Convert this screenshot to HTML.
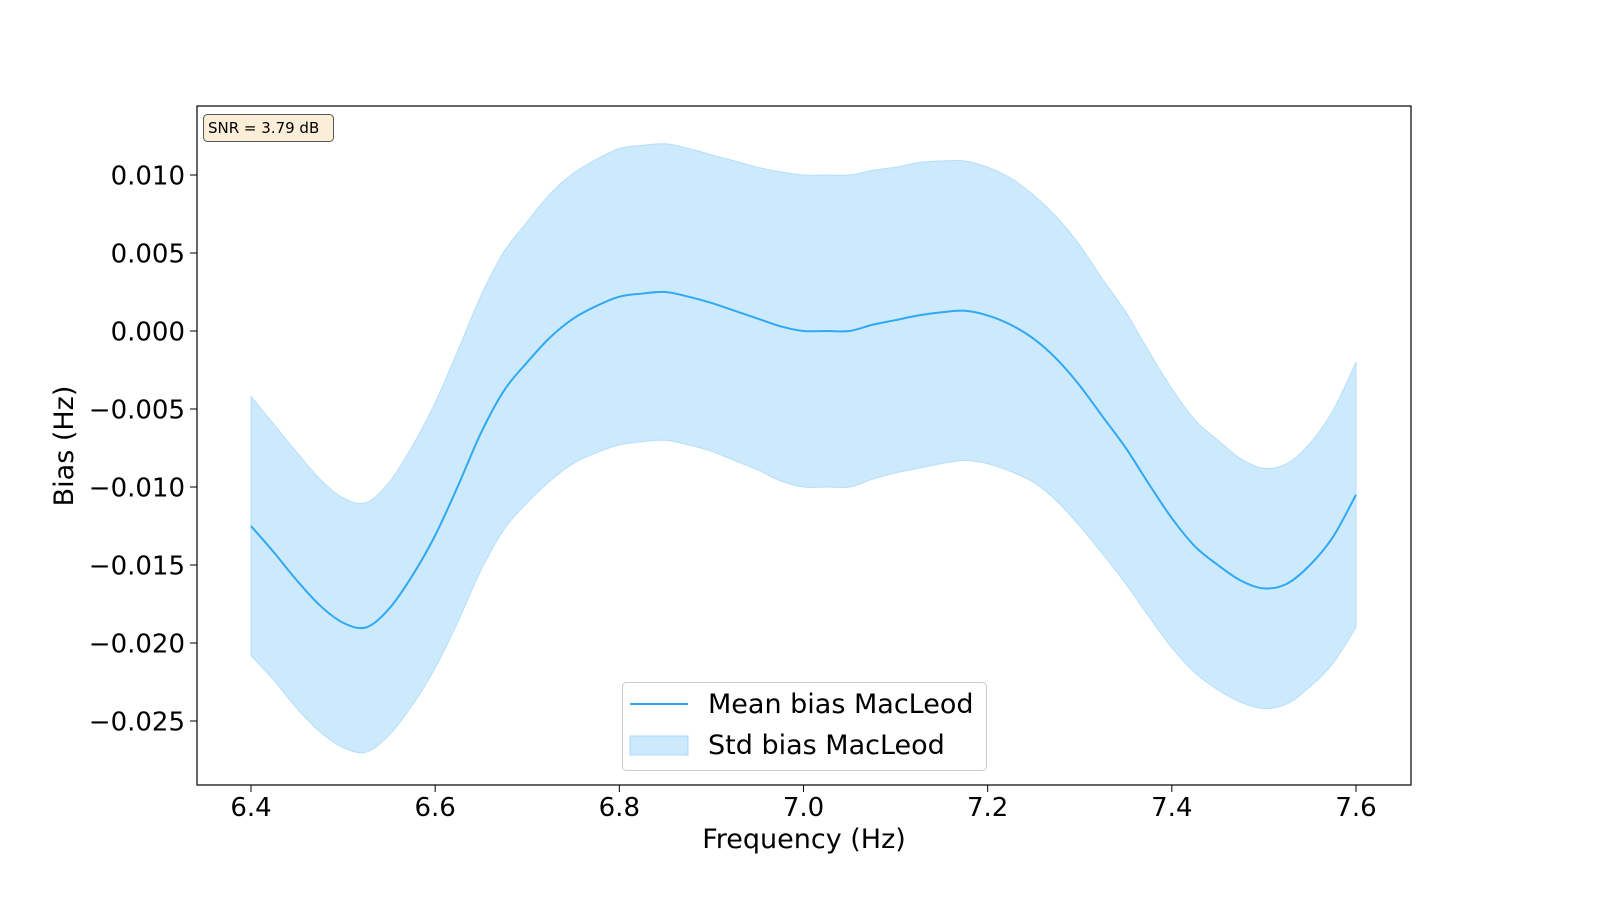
<!DOCTYPE html>
<html><head><meta charset="utf-8"><style>
body{margin:0;background:#fff;}
svg{display:block;font-family:"DejaVu Sans","Liberation Sans",sans-serif;}
</style></head><body>
<svg id="chart" width="1600" height="900">
<g id="plot"></g>
<rect x="197" y="106" width="1214" height="679" fill="none" stroke="#000" stroke-width="1.2"/>
<g id="xt"></g>
<g id="yt"></g>
<text x="804" y="848" font-size="27" text-anchor="middle">Frequency (Hz)</text>
<text transform="translate(73,446) rotate(-90)" font-size="27" text-anchor="middle">Bias (Hz)</text>
<g>
<rect x="203.5" y="114.5" width="130" height="27" rx="4" fill="#f5deb3" fill-opacity="0.5" stroke="#555"/>
<text x="208" y="133" font-size="15">SNR = 3.79 dB</text>
</g>
<g>
<rect x="622.5" y="682.5" width="364" height="88" rx="4" fill="#fff" fill-opacity="0.8" stroke="#ccc"/>
<line x1="630" y1="704" x2="688" y2="704" stroke="#2fa8f5" stroke-width="2"/>
<text x="708" y="713" font-size="27">Mean bias MacLeod</text>
<rect x="630" y="736" width="58" height="19" fill="#cdeafd" stroke="#a8d8fa"/>
<text x="708" y="754" font-size="27">Std bias MacLeod</text>
</g>
</svg>
<script>
const freqs=[6.4,6.425,6.45,6.475,6.5,6.525,6.55,6.575,6.6,6.625,6.65,6.675,6.7,6.725,6.75,6.775,6.8,6.825,6.85,6.875,6.9,6.925,6.95,6.975,7.0,7.025,7.05,7.075,7.1,7.125,7.15,7.175,7.2,7.225,7.25,7.275,7.3,7.325,7.35,7.375,7.4,7.425,7.45,7.475,7.5,7.525,7.55,7.575,7.6];
const meanBias=[-0.0125,-0.0142,-0.016,-0.0176,-0.0187,-0.019,-0.0178,-0.0157,-0.0131,-0.0099,-0.0065,-0.0038,-0.002,-0.0004,0.0008,0.0016,0.0022,0.0024,0.0025,0.0022,0.0018,0.0013,0.0008,0.0003,0.0,0.0,0.0,0.0004,0.0007,0.001,0.0012,0.0013,0.001,0.0004,-0.0005,-0.0018,-0.0035,-0.0055,-0.0075,-0.0098,-0.012,-0.0138,-0.015,-0.016,-0.0165,-0.0162,-0.015,-0.0132,-0.0105];
const stdBias=[0.0083,0.0082,0.0082,0.0081,0.008,0.008,0.0081,0.0083,0.0085,0.0087,0.0088,0.0089,0.009,0.0092,0.0093,0.0094,0.0095,0.0095,0.0095,0.0095,0.0095,0.0096,0.0097,0.0099,0.01,0.01,0.01,0.0099,0.0098,0.0098,0.0097,0.0096,0.0095,0.0094,0.0092,0.0091,0.009,0.0088,0.0087,0.0085,0.0083,0.0081,0.008,0.0078,0.0077,0.0077,0.0078,0.0081,0.0085];
const xTicks=[6.4,6.6,6.8,7.0,7.2,7.4,7.6];
const yTicks=[0.010,0.005,0.000,-0.005,-0.010,-0.015,-0.020,-0.025];
const NS="http://www.w3.org/2000/svg";
const xs=v=>251+(v-6.4)*(1105/1.2);
const ys=v=>331-v*15600;
function mk(t,a,p){const e=document.createElementNS(NS,t);for(const k in a)e.setAttribute(k,a[k]);p.appendChild(e);return e;}
function smooth(pts,move){let d=move?'M'+pts[0][0]+','+pts[0][1]:'L'+pts[0][0]+','+pts[0][1];
for(let i=0;i<pts.length-1;i++){const p0=pts[Math.max(i-1,0)],p1=pts[i],p2=pts[i+1],p3=pts[Math.min(i+2,pts.length-1)];
const c1=[p1[0]+(p2[0]-p0[0])/6,p1[1]+(p2[1]-p0[1])/6],c2=[p2[0]-(p3[0]-p1[0])/6,p2[1]-(p3[1]-p1[1])/6];
d+=' C'+c1[0]+','+c1[1]+' '+c2[0]+','+c2[1]+' '+p2[0]+','+p2[1];}return d;}
const plot=document.getElementById('plot');
const up=freqs.map((f,i)=>[xs(f),ys(meanBias[i]+stdBias[i])]);
const lo=freqs.map((f,i)=>[xs(f),ys(meanBias[i]-stdBias[i])]).reverse();
const band=mk('path',{d:smooth(up,true)+' '+smooth(lo,false)+' Z',fill:'#cdeafd',stroke:'#b5defb','stroke-width':1},plot);


const line=mk('path',{d:smooth(freqs.map((f,i)=>[xs(f),ys(meanBias[i])]),true),fill:'none',stroke:'#2fa8f5','stroke-width':2,'stroke-linejoin':'round'},plot);


const xt=document.getElementById('xt');
xTicks.forEach(v=>{const x=xs(v);
const l=mk('line',{x1:x,x2:x,y1:785,y2:792,stroke:'#000'},xt);


const t=mk('text',{x:x,y:816,'font-size':26,'text-anchor':'middle'},xt);t.textContent=v.toFixed(1);

});
const yt=document.getElementById('yt');
yTicks.forEach(v=>{const y=ys(v);
const l=mk('line',{x1:190,x2:197,y1:y,y2:y,stroke:'#000'},yt);


const t=mk('text',{x:185,y:y+9.5,'font-size':26,'text-anchor':'end'},yt);t.textContent=(v<0?'\u2212':'')+Math.abs(v).toFixed(3);

});
</script>
</body></html>
